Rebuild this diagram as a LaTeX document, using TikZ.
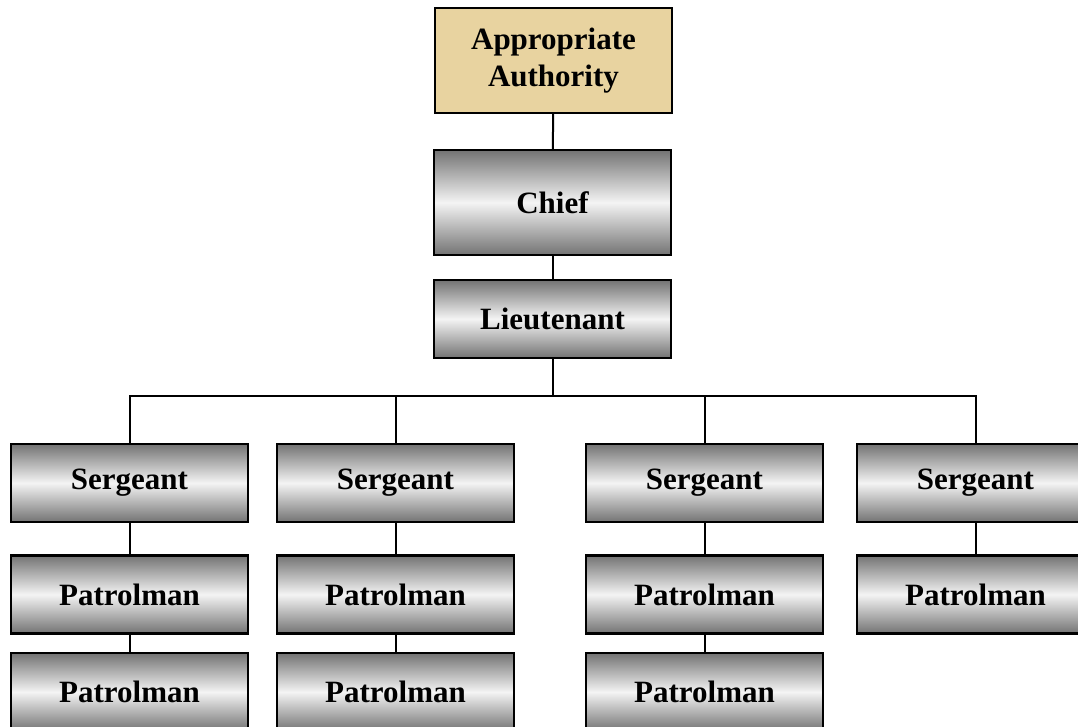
\documentclass[tikz,border=0pt]{standalone}
\usepackage{fontspec}
\setmainfont{Liberation Serif}
\usetikzlibrary{positioning}

\definecolor{papyrus}{RGB}{232,211,160}
\definecolor{rankdark}{RGB}{115,115,115}
\definecolor{ranklight}{RGB}{244,244,244}

\tikzset{
  box/.style={draw=black, line width=1.2pt, minimum width=118.5pt,
    minimum height=39pt, inner sep=0pt, align=center,
    font=\fontsize{15.5}{18.5}\selectfont\bfseries},
  rank/.style={box, top color=rankdark, bottom color=rankdark, middle color=ranklight},
  authority/.style={box, fill=papyrus},
  link/.style={draw=black, line width=1pt}
}

\begin{document}
\begin{tikzpicture}[x=0.5pt, y=-0.5pt]
  % page frame
  \useasboundingbox (0,0) rectangle (1078,727);

  % top of the chart
  \node[authority, minimum height=52.5pt] (auth) at (553.5,60.5) {Appropriate\\Authority};
  \node[rank, minimum height=52.5pt] (chief) at (552.5,202.5) {Chief};
  \node[rank] (lieut) at (552.5,319) {Lieutenant};

  % sergeants
  \node[rank] (sgtA) at (129.5,483) {Sergeant};
  \node[rank] (sgtB) at (395.5,483) {Sergeant};
  \node[rank] (sgtC) at (704.5,483) {Sergeant};
  \node[rank] (sgtD) at (975.5,483) {Sergeant};

  % patrolmen
  \node[rank] (patA1) at (129.5,594.5) {Patrolman};
  \node[rank] (patB1) at (395.5,594.5) {Patrolman};
  \node[rank] (patC1) at (704.5,594.5) {Patrolman};
  \node[rank] (patD1) at (975.5,594.5) {Patrolman};
  \node[rank] (patA2) at (129.5,692) {Patrolman};
  \node[rank] (patB2) at (395.5,692) {Patrolman};
  \node[rank] (patC2) at (704.5,692) {Patrolman};

  % lines
  \coordinate (bus) at (552.5,396);
  \draw[link] (auth) -- (chief);
  \draw[link] (chief) -- (lieut);
  \draw[link] (lieut) -- (bus);
  \draw[link] (sgtA.north) |- (bus) -| (sgtD.north);
  \draw[link] (sgtB.north) -- (sgtB.north |- bus);
  \draw[link] (sgtC.north) -- (sgtC.north |- bus);
  \draw[link] (sgtA) -- (patA1);
  \draw[link] (sgtB) -- (patB1);
  \draw[link] (sgtC) -- (patC1);
  \draw[link] (sgtD) -- (patD1);
  \draw[link] (patA1) -- (patA2);
  \draw[link] (patB1) -- (patB2);
  \draw[link] (patC1) -- (patC2);
\end{tikzpicture}
\end{document}
